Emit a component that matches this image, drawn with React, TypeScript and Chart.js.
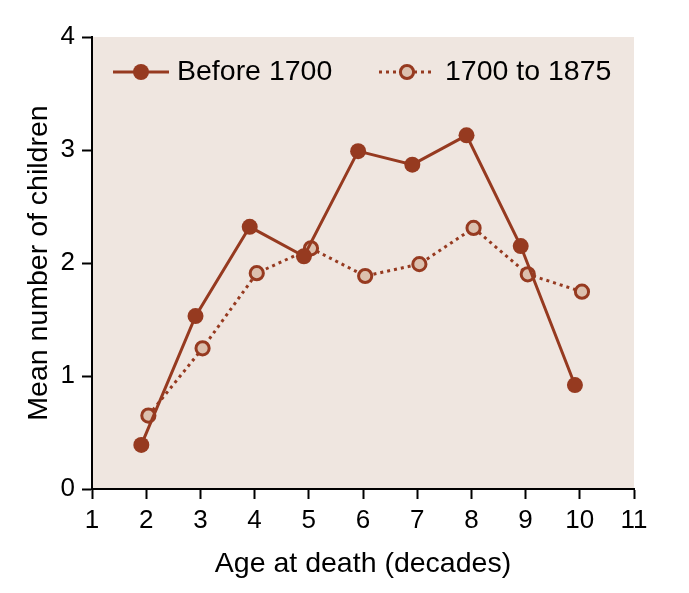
import React, { useEffect, useRef } from "react";
import { Chart, registerables } from "chart.js";

Chart.register(...registerables);

// ---- Data ----
const ages = [2, 3, 4, 5, 6, 7, 8, 9, 10];
const before1700 = [0.39, 1.53, 2.32, 2.06, 2.99, 2.87, 3.13, 2.15, 0.92];
const from1700to1875 = [0.65, 1.245, 1.91, 2.13, 1.885, 1.99, 2.31, 1.9, 1.746];
const seriesLabels = ["Before 1700", "1700 to 1875"];
const xTitle = "Age at death (decades)";
const yTitle = "Mean number of children";

// small horizontal dodge so the two series do not overlap exactly
const DODGE_BEFORE = -0.09;
const DODGE_AFTER = 0.04;

const LINE = "#963a20";
const OPEN_FILL = "#dcc0ae";
const BG = "#efe6e0";
const FONT = "'Liberation Sans', Arial, Helvetica, sans-serif";

const bgPlugin = {
  id: "areaBg",
  beforeDraw(chart: any) {
    const { ctx, chartArea } = chart;
    ctx.save();
    ctx.fillStyle = BG;
    ctx.fillRect(chartArea.left, chartArea.top, chartArea.right - chartArea.left, chartArea.bottom - chartArea.top);
    ctx.restore();
  },
};

const legendPlugin = {
  id: "innerLegend",
  afterDraw(chart: any) {
    const { ctx, chartArea } = chart;
    const y = chartArea.top + 35;
    ctx.save();
    // series 1
    let x0 = chartArea.left + 21;
    ctx.strokeStyle = LINE;
    ctx.lineWidth = 3;
    ctx.setLineDash([]);
    ctx.beginPath();
    ctx.moveTo(x0, y);
    ctx.lineTo(x0 + 56, y);
    ctx.stroke();
    ctx.fillStyle = LINE;
    ctx.beginPath();
    ctx.arc(x0 + 28, y, 8, 0, Math.PI * 2);
    ctx.fill();
    ctx.fillStyle = "#000";
    ctx.font = `28.5px ${FONT}`;
    ctx.textBaseline = "alphabetic";
    ctx.textAlign = "left";
    ctx.fillText(seriesLabels[0], x0 + 64, y + 8);

    // series 2
    x0 = chartArea.left + 287;
    ctx.strokeStyle = LINE;
    ctx.lineWidth = 3;
    ctx.setLineDash([3, 4]);
    ctx.beginPath();
    ctx.moveTo(x0, y);
    ctx.lineTo(x0 + 56, y);
    ctx.stroke();
    ctx.setLineDash([]);
    ctx.fillStyle = OPEN_FILL;
    ctx.beginPath();
    ctx.arc(x0 + 28, y, 6.6, 0, Math.PI * 2);
    ctx.fill();
    ctx.stroke();
    ctx.fillStyle = "#000";
    ctx.fillText(seriesLabels[1], x0 + 66, y + 8);
    ctx.restore();
  },
};

export default function App() {
  const ref = useRef<HTMLCanvasElement | null>(null);

  useEffect(() => {
    if (!ref.current) return;
    const chart = new Chart(ref.current, {
      type: "line",
      data: {
        datasets: [
          {
            label: seriesLabels[0],
            data: ages.map((a, i) => ({ x: a + DODGE_BEFORE, y: before1700[i] })),
            borderColor: LINE,
            backgroundColor: LINE,
            borderWidth: 3,
            pointRadius: 8,
            pointBorderWidth: 0,
            pointBackgroundColor: LINE,
            tension: 0,
          },
          {
            label: seriesLabels[1],
            data: ages.map((a, i) => ({ x: a + DODGE_AFTER, y: from1700to1875[i] })),
            borderColor: LINE,
            backgroundColor: OPEN_FILL,
            borderWidth: 3,
            borderDash: [3, 4],
            pointRadius: 6.6,
            pointBorderWidth: 3,
            pointBorderColor: LINE,
            pointBackgroundColor: OPEN_FILL,
            tension: 0,
          },
        ],
      },
      options: {
        responsive: false,
        animation: false,
        layout: { padding: { left: 0, top: 37, right: 55, bottom: 12 } },
        plugins: { legend: { display: false }, tooltip: { enabled: false } },
        scales: {
          x: {
            type: "linear",
            min: 1,
            max: 11,
            afterFit(scale: any) {
              scale.height = 92;
            },
            ticks: { stepSize: 1, color: "#000", padding: 6, font: { family: FONT, size: 26 } },
            grid: { drawOnChartArea: false, tickLength: 10, tickColor: "#000", tickWidth: 2 },
            border: { display: true, color: "#000", width: 2 },
            title: {
              display: true,
              text: xTitle,
              color: "#000",
              font: { family: FONT, size: 28.5 },
              padding: { top: 0, bottom: 0 },
            },
          },
          y: {
            type: "linear",
            min: 0,
            max: 4,
            afterFit(scale: any) {
              scale.width = 92;
            },
            ticks: { stepSize: 1, color: "#000", padding: 7, font: { family: FONT, size: 26 } },
            grid: { drawOnChartArea: false, tickLength: 10, tickColor: "#000", tickWidth: 2 },
            border: { display: true, color: "#000", width: 2 },
            title: {
              display: true,
              text: yTitle,
              color: "#000",
              font: { family: FONT, size: 28.5 },
              padding: { top: 22, bottom: 0 },
            },
          },
        },
      },
      plugins: [bgPlugin, legendPlugin],
    });
    return () => chart.destroy();
  }, []);

  return (
    <div style={{ position: "absolute", left: 0, top: 0, width: 689, height: 593, background: "#fff" }}>
      <canvas ref={ref} width={689} height={593} style={{ display: "block" }} />
    </div>
  );
}
